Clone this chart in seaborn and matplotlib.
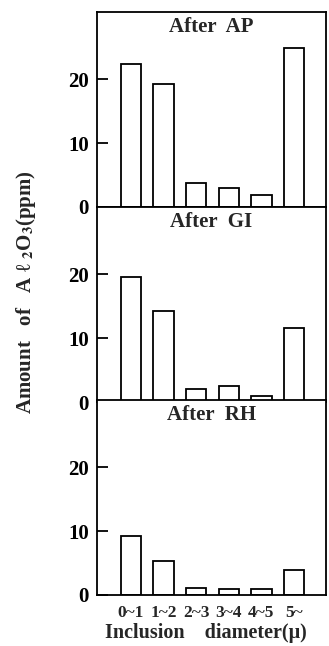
import matplotlib
matplotlib.use("Agg")
import matplotlib.pyplot as plt
import seaborn as sns
import pandas as pd

sns.set_theme(style="white")
plt.rcParams['font.family'] = ['Liberation Serif', 'DejaVu Serif']
plt.rcParams['mathtext.fontset'] = 'stix'

categories = ["0~1", "1~2", "2~3", "3~4", "4~5", "5~"]
after_ap = [22.4, 19.2, 3.8, 3.0, 1.9, 24.8]
after_gi = [19.5, 14.2, 2.0, 2.5, 0.9, 11.6]
after_rh = [9.2, 5.3, 1.1, 1.0, 0.9, 3.9]
panel_titles = ["After  AP", "After  GI", "After  RH"]
yticks = [0, 10, 20]

series = [after_ap, after_gi, after_rh]

fig = plt.figure(figsize=(3.29, 6.46), dpi=100)
left, right = 97 / 329, 326 / 329
tops = [12, 207, 400]
h = 195

for i, (vals, title) in enumerate(zip(series, panel_titles)):
    top_px = tops[i]
    bottom = 1 - (top_px + h) / 646
    ax = fig.add_axes([left, bottom, right - left, h / 646])
    df = pd.DataFrame({"cat": categories, "val": vals})
    sns.barplot(data=df, x="cat", y="val", ax=ax, color="white",
                edgecolor="black", linewidth=1.3, width=0.62, order=categories)
    ax.set_xlim(-1.04, 5.98)
    ax.set_ylim(0, 30.5)
    ax.set_yticks(yticks)
    ax.set_yticklabels([str(t) for t in yticks], fontsize=15, fontweight='bold')
    ax.tick_params(axis='y', direction='in', length=8, width=1.3, pad=6,
                   left=True, colors='black')
    ax.tick_params(axis='x', length=0, bottom=False)
    ax.set_xlabel("")
    ax.set_ylabel("")
    for s in ax.spines.values():
        s.set_visible(True)
        s.set_color("black")
        s.set_linewidth(1.3)
    ax.text(0.5, 0.925, title, transform=ax.transAxes, ha='center',
            va='center', fontsize=15, fontweight='bold')
    if i < 2:
        ax.set_xticklabels([])
    else:
        ax.set_xticks(range(len(categories)))
        ax.set_xticklabels(categories, fontsize=12.5, fontweight='bold')
        ax.tick_params(axis='x', pad=7)

fig.text(206 / 329, 1 - 633 / 646, "Inclusion    diameter(μ)", ha='center',
         va='center', fontsize=14.5, fontweight='bold')
fig.text(26 / 329, 1 - 292 / 646, "Amount   of   A ℓ $_{\\mathbf{2}}$O$_{\\mathbf{3}}$(ppm)",
         ha='center', va='center', rotation=90, fontsize=15, fontweight='bold')

fig.savefig("out.png", dpi=100)
